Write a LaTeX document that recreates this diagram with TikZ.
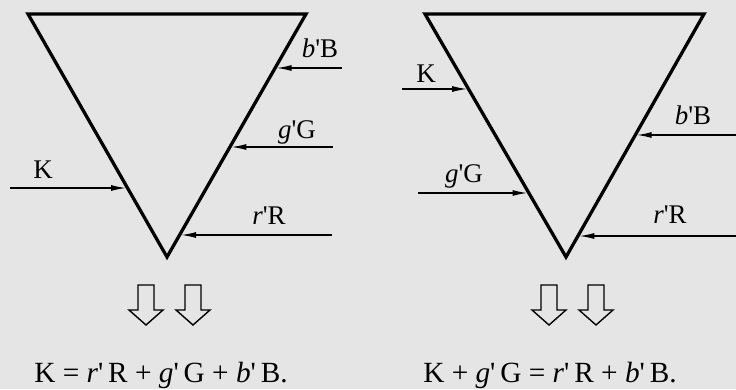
\documentclass[tikz,border=0pt]{standalone}
\usepackage{fontspec}
\setmainfont{Liberation Serif}
\usepackage{tikz}
\usetikzlibrary{arrows.meta, calc}

\begin{document}
\begin{tikzpicture}[
    x=0.03cm, y=-0.03cm,
    edge/.style={line width=2.8pt, line join=miter},
    feed/.style={-{Latex[length=4.5mm, width=1.8mm]}, line width=1.2pt, shorten >=1.2pt},
    hollow/.style={draw, line width=1.2pt, line join=miter},
    lbl/.style={anchor=base, inner sep=0pt, font=\fontsize{23}{27}\selectfont},
    formula/.style={anchor=base, inner sep=0pt, font=\fontsize{25}{30}\selectfont}
]

% Background
\fill[black!10] (0,0) rectangle (736,389);
\useasboundingbox (0,0) rectangle (736,389);

% Left triangle
\coordinate (l_tl) at (28,14);
\coordinate (l_tr) at (306,14);
\coordinate (l_bot) at (167,257);
\draw[edge] (l_tl) -- (l_tr) -- (l_bot) -- cycle;

% Right triangle
\coordinate (r_tl) at (425,14);
\coordinate (r_tr) at (704,14);
\coordinate (r_bot) at (566,257);
\draw[edge] (r_tl) -- (r_tr) -- (r_bot) -- cycle;

% Points on the edges
\coordinate (l_b_in) at ($(l_tr)!0.222!(l_bot)$);
\coordinate (l_g_in) at ($(l_tr)!0.547!(l_bot)$);
\coordinate (l_r_in) at ($(l_tr)!0.909!(l_bot)$);
\coordinate (l_k_in) at ($(l_tl)!0.716!(l_bot)$);
\coordinate (r_k_in) at ($(r_tl)!0.309!(r_bot)$);
\coordinate (r_g_in) at ($(r_tl)!0.737!(r_bot)$);
\coordinate (r_b_in) at ($(r_tr)!0.498!(r_bot)$);
\coordinate (r_r_in) at ($(r_tr)!0.914!(r_bot)$);

% Free ends
\coordinate (l_b_src) at (342,68);
\coordinate (l_g_src) at (333,147);
\coordinate (l_r_src) at (332,235);
\coordinate (l_k_src) at (10,188);
\coordinate (r_k_src) at (402,89);
\coordinate (r_g_src) at (418,193);
\coordinate (r_b_src) at (736,135);
\coordinate (r_r_src) at (736,236);

% Arrows
\draw[feed] (l_b_src) -- (l_b_src -| l_b_in);
\draw[feed] (l_g_src) -- (l_g_src -| l_g_in);
\draw[feed] (l_r_src) -- (l_r_src -| l_r_in);
\draw[feed] (l_k_src) -- (l_k_src -| l_k_in);
\draw[feed] (r_k_src) -- (r_k_src -| r_k_in);
\draw[feed] (r_g_src) -- (r_g_src -| r_g_in);
\draw[feed] (r_b_src) -- (r_b_src -| r_b_in);
\draw[feed] (r_r_src) -- (r_r_src -| r_r_in);

% Labels
\node[lbl] (l_b_lbl) at (320,57) {\textit{b}\textquotesingle B};
\node[lbl] (l_g_lbl) at (297,138) {\textit{g}\textquotesingle G};
\node[lbl] (l_r_lbl) at (269,224) {\textit{r}\textquotesingle R};
\node[lbl] (l_k_lbl) at (43,178) {K};
\node[lbl] (r_k_lbl) at (426,82) {K};
\node[lbl] (r_g_lbl) at (464,182) {\textit{g}\textquotesingle G};
\node[lbl] (r_b_lbl) at (693,124) {\textit{b}\textquotesingle B};
\node[lbl] (r_r_lbl) at (670,223) {\textit{r}\textquotesingle R};

% Hollow arrows
\foreach \cx in {146,193,549,596}
  \draw[hollow] (\cx-8,285) -- (\cx+8,285) -- (\cx+8,310) -- (\cx+17,310)
    -- (\cx,325) -- (\cx-17,310) -- (\cx-8,310) -- cycle;

% Formulas
\node[formula] (l_eq) at (161,382) {K = \textit{r}\textquotesingle\,R + \textit{g}\textquotesingle\,G + \textit{b}\textquotesingle\,B.};
\node[formula] (r_eq) at (550,382) {K + \textit{g}\textquotesingle\,G = \textit{r}\textquotesingle\,R + \textit{b}\textquotesingle\,B.};

\end{tikzpicture}
\end{document}
